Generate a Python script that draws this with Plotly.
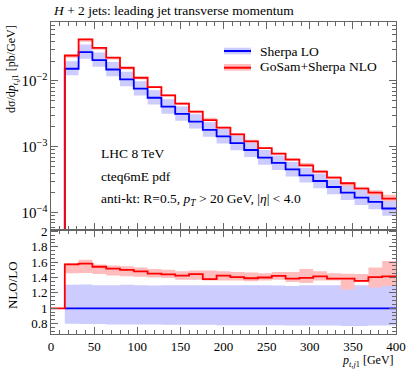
import plotly.graph_objects as go

# bin edges in GeV (16 GeV bins from 16 to 400)
edges = list(range(16, 401, 16))

# d sigma / d pt  [pb/GeV]
lo_vals = [0.0153, 0.0273, 0.0207, 0.0149, 0.01054, 0.00762, 0.00556, 0.00406,
           0.00316, 0.00241, 0.00181, 0.00144, 0.00114, 0.000895, 0.000686, 0.000569,
           0.000456, 0.00037, 0.000303, 0.000246, 0.000202, 0.00017, 0.000146, 0.000116]
nlo_vals = [0.0243, 0.0426, 0.0318, 0.0225, 0.01585, 0.01117, 0.00806, 0.00603,
            0.00453, 0.00341, 0.00255, 0.00195, 0.001546, 0.00121, 0.000955, 0.000788,
            0.00064, 0.000525, 0.000421, 0.000341, 0.00028, 0.000233, 0.000202, 0.000164]

# ratio panel NLO/LO and scale-variation bands (relative to LO)
ratio_nlo = [1.57, 1.58, 1.54, 1.515, 1.50, 1.48, 1.45, 1.44, 1.425, 1.445, 1.38, 1.425,
             1.405, 1.39, 1.40, 1.42, 1.385, 1.395, 1.415, 1.385, 1.385, 1.355, 1.405, 1.415]
nlo_band_hi = [1.59, 1.63, 1.57, 1.555, 1.545, 1.53, 1.51, 1.50, 1.48, 1.49, 1.49, 1.48,
               1.47, 1.465, 1.455, 1.47, 1.47, 1.51, 1.48, 1.455, 1.45, 1.445, 1.53, 1.615]
nlo_band_lo = [1.455, 1.46, 1.445, 1.425, 1.415, 1.41, 1.40, 1.395, 1.37, 1.37, 1.36, 1.36,
               1.36, 1.35, 1.36, 1.37, 1.34, 1.33, 1.36, 1.36, 1.245, 1.34, 1.27, 1.29]
lo_band_hi = [1.305, 1.31, 1.30, 1.30, 1.305, 1.30, 1.295, 1.30, 1.30, 1.30, 1.30, 1.30,
              1.30, 1.30, 1.30, 1.295, 1.29, 1.30, 1.30, 1.30, 1.31, 1.30, 1.30, 1.30]
lo_band_lo = [0.80, 0.795, 0.795, 0.79, 0.79, 0.79, 0.79, 0.785, 0.785, 0.785, 0.785, 0.78,
              0.78, 0.78, 0.78, 0.78, 0.775, 0.775, 0.775, 0.775, 0.77, 0.77, 0.775, 0.775]
ratio_lo = [1.0] * len(lo_vals)

BLUE = '#0000ff'
RED = '#ff0000'
BLUE_BAND = '#ccccff'
RED_BAND = '#ffbdbd'
FONT = 'Liberation Serif'
AX = '#666666'
TXT = 13.5


def band(lo, hi):
    xs, ys = [], []
    for i in range(len(lo)):
        xs += [edges[i], edges[i + 1]]
        ys += [hi[i], hi[i]]
    for i in reversed(range(len(lo))):
        xs += [edges[i + 1], edges[i]]
        ys += [lo[i], lo[i]]
    return xs, ys


fig = go.Figure()

# ---- top panel ----
bx, by = band([v * f for v, f in zip(lo_vals, lo_band_lo)],
              [v * f for v, f in zip(lo_vals, lo_band_hi)])
fig.add_trace(go.Scatter(x=bx, y=by, fill='toself', fillcolor=BLUE_BAND, mode='none',
                         xaxis='x', yaxis='y', hoverinfo='skip'))
rx, ry = band([v * lo_ / r for v, lo_, r in zip(nlo_vals, nlo_band_lo, ratio_nlo)],
              [v * hi_ / r for v, hi_, r in zip(nlo_vals, nlo_band_hi, ratio_nlo)])
fig.add_trace(go.Scatter(x=rx, y=ry, fill='toself', fillcolor=RED_BAND, mode='none',
                         xaxis='x', yaxis='y', hoverinfo='skip'))
fig.add_trace(go.Scatter(x=[edges[0]] + edges, y=[1e-7] + lo_vals + [lo_vals[-1]],
                         mode='lines', line=dict(color=BLUE, width=1.8, shape='hv'),
                         xaxis='x', yaxis='y'))
fig.add_trace(go.Scatter(x=[edges[0]] + edges, y=[1e-7] + nlo_vals + [nlo_vals[-1]],
                         mode='lines', line=dict(color=RED, width=1.8, shape='hv'),
                         xaxis='x', yaxis='y'))

# ---- ratio panel ----
bx, by = band(lo_band_lo, lo_band_hi)
fig.add_trace(go.Scatter(x=bx, y=by, fill='toself', fillcolor=BLUE_BAND, mode='none',
                         xaxis='x2', yaxis='y2', hoverinfo='skip'))
rx, ry = band(nlo_band_lo, nlo_band_hi)
fig.add_trace(go.Scatter(x=rx, y=ry, fill='toself', fillcolor=RED_BAND, mode='none',
                         xaxis='x2', yaxis='y2', hoverinfo='skip'))
fig.add_trace(go.Scatter(x=edges, y=ratio_lo + [ratio_lo[-1]],
                         mode='lines', line=dict(color=BLUE, width=1.8, shape='hv'),
                         xaxis='x2', yaxis='y2'))
fig.add_trace(go.Scatter(x=[0] + edges, y=[1.0] + ratio_nlo + [ratio_nlo[-1]],
                         mode='lines', line=dict(color=RED, width=1.8, shape='hv'),
                         xaxis='x2', yaxis='y2'))

common_x = dict(range=[0, 400], showgrid=False, zeroline=False, showline=True, mirror='ticks',
                linecolor=AX, linewidth=1, ticks='inside', ticklen=7, tickcolor=AX,
                dtick=50, tick0=0, automargin=False,
                minor=dict(ticks='inside', ticklen=4, dtick=10, tickcolor=AX, showgrid=False))

fig.update_layout(
    width=409, height=370,
    margin=dict(l=51, r=13, t=22, b=36),
    paper_bgcolor='white', plot_bgcolor='white',
    showlegend=False,
    font=dict(family=FONT, size=13, color='black'),
    xaxis=dict(common_x, anchor='y', domain=[0, 1], showticklabels=False),
    xaxis2=dict(common_x, anchor='y2', domain=[0, 1], matches='x',
                tickfont=dict(size=13), ticklabelstandoff=0),
    yaxis=dict(type='log', range=[-4.262, -1.106], domain=[0.3333, 1], anchor='x',
               showgrid=False, zeroline=False, showline=True, mirror='ticks', linecolor=AX,
               ticks='inside', ticklen=7, tickcolor=AX, dtick=1, exponentformat='power',
               tickfont=dict(size=12), automargin=False,
               minor=dict(ticks='inside', ticklen=4, dtick='D1', tickcolor=AX, showgrid=False)),
    yaxis2=dict(range=[0.666, 2.017], domain=[0, 0.3333], anchor='x2',
                showgrid=False, zeroline=False, showline=True, mirror='ticks', linecolor=AX,
                ticks='inside', ticklen=7, tickcolor=AX, automargin=False,
                tickvals=[0.8, 1, 1.2, 1.4, 1.6, 1.8, 2],
                ticktext=['0.8', '1', '1.2', '1.4', '1.6', '1.8', '2'],
                tickfont=dict(size=13),
                minor=dict(ticks='inside', ticklen=4, dtick=0.05, tickcolor=AX, showgrid=False)),
)

# legend drawn by hand: band swatch with a line through it
for (y0, y1, yl, ytxt, col, bcol, txt) in [
        (0.8965, 0.9176, 0.907, 0.905, BLUE, BLUE_BAND, 'Sherpa LO'),
        (0.8439, 0.8654, 0.8535, 0.856, RED, RED_BAND, 'GoSam+Sherpa NLO')]:
    fig.add_shape(type='rect', xref='paper', yref='paper', x0=0.5014, x1=0.5797,
                  y0=y0, y1=y1, fillcolor=bcol, line=dict(width=0))
    fig.add_shape(type='line', xref='paper', yref='paper', x0=0.5014, x1=0.5797,
                  y0=yl, y1=yl, line=dict(color=col, width=2))
    fig.add_annotation(x=0.60, y=ytxt, xref='paper', yref='paper', text=txt,
                       showarrow=False, xanchor='left', yanchor='middle',
                       font=dict(size=TXT))

# title and labels
fig.add_annotation(x=0, y=1.038, xref='paper', yref='paper',
                   text='<i>H</i> + 2 jets: leading jet transverse momentum',
                   showarrow=False, xanchor='left', yanchor='middle', font=dict(size=TXT))
fig.add_annotation(x=-0.113, y=0.997, xref='paper', yref='paper', textangle=-90,
                   text='dσ/d<i>p</i><sub><i>t,j</i>1</sub> [pb/GeV]',
                   showarrow=False, xanchor='center', yanchor='top', font=dict(size=12))
fig.add_annotation(x=-0.113, y=0.157, xref='paper', yref='paper', textangle=-90,
                   text='NLO/LO', showarrow=False, xanchor='center', yanchor='middle',
                   font=dict(size=13))
fig.add_annotation(x=1.0, y=-0.086, xref='paper', yref='paper',
                   text='<i>p</i><sub><i>t,j</i>1</sub> [GeV]',
                   showarrow=False, xanchor='right', yanchor='middle', font=dict(size=12))

for ytxt, txt in [(0.579, 'LHC 8 TeV'), (0.504, 'cteq6mE pdf'),
                  (0.4295, 'anti-kt: R=0.5, <i>p<sub>T</sub></i> > 20 GeV, |<i>η</i>| < 4.0')]:
    fig.add_annotation(x=0.139, y=ytxt, xref='paper', yref='paper', text=txt,
                       showarrow=False, xanchor='left', yanchor='middle', font=dict(size=TXT))

# the page body has a default 8px margin; remove it so the chart sits at the origin
fig.write_html("out.html", config={'displayModeBar': False},
               post_script="document.body.style.margin='0';")
